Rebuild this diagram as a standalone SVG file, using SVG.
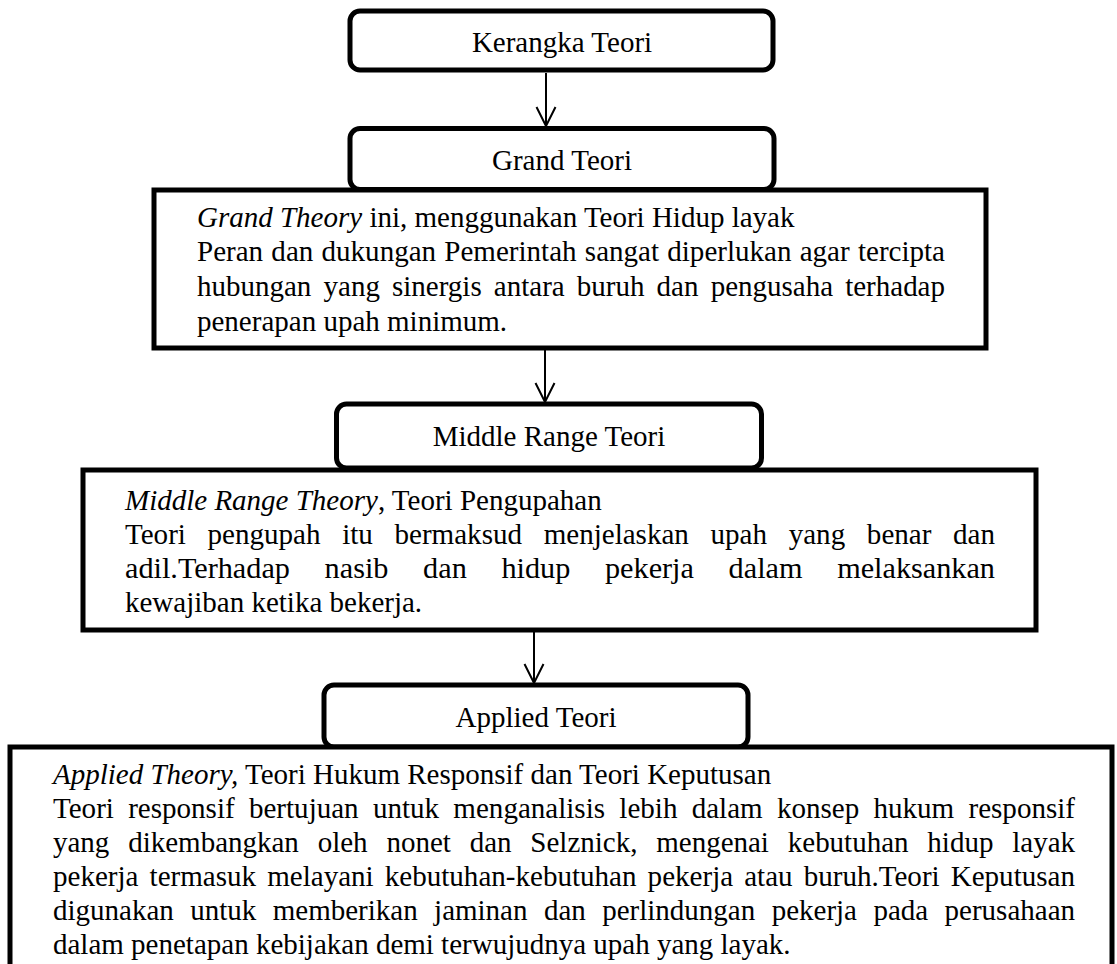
<svg xmlns="http://www.w3.org/2000/svg" width="1117" height="964" viewBox="0 0 1117 964">
<style>
  .box { fill: #fff; stroke: #000; stroke-width: 5; }
  .t { font-family: "Liberation Serif", "Times New Roman", serif; font-size: 29px; fill: #000; }
  .title { font-family: "Liberation Serif", "Times New Roman", serif; font-size: 29px; fill: #000; text-anchor: middle; }
  .i { font-style: italic; }
  .conn { stroke: #000; stroke-width: 2; fill: none; }
</style>
<defs>
  <marker id="arr" viewBox="-22 -12 24 24" refX="0" refY="0" markerWidth="24" markerHeight="24" markerUnits="userSpaceOnUse" orient="auto">
    <path d="M-19,-9.5 L0,0 L-19,9.5" fill="none" stroke="#000" stroke-width="2"/>
  </marker>
</defs>
<rect width="1117" height="964" fill="#fff"/>

<g id="connectors">
  <line class="conn" x1="546" y1="73" x2="546" y2="126" marker-end="url(#arr)"/>
  <line class="conn" x1="545" y1="350" x2="545" y2="402" marker-end="url(#arr)"/>
  <line class="conn" x1="534" y1="632" x2="534" y2="683" marker-end="url(#arr)"/>
</g>

<g id="kerangka">
  <rect class="box" x="350" y="11" width="423" height="59" rx="10"/>
  <text class="title" x="562" y="52">Kerangka Teori</text>
</g>

<g id="grand-title">
  <rect class="box" x="350" y="128.5" width="424" height="61" rx="10"/>
  <text class="title" x="562" y="170">Grand Teori</text>
</g>

<g id="grand-body">
  <rect class="box" x="154" y="190" width="832" height="158"/>
  <text class="t" x="197" y="227"><tspan class="i">Grand Theory</tspan> ini, menggunakan Teori Hidup layak</text>
  <text class="t" x="197" y="261" textLength="748" lengthAdjust="spacingAndGlyphs" word-spacing="1">Peran dan dukungan Pemerintah sangat diperlukan agar tercipta</text>
  <text class="t" x="197" y="296" textLength="748" lengthAdjust="spacingAndGlyphs" word-spacing="4.9">hubungan yang sinergis antara buruh dan pengusaha terhadap</text>
  <text class="t" x="197" y="331">penerapan upah minimum.</text>
</g>

<g id="middle-title">
  <rect class="box" x="336.5" y="404" width="425" height="64" rx="10"/>
  <text class="title" x="549" y="446">Middle Range Teori</text>
</g>

<g id="middle-body">
  <rect class="box" x="83" y="470" width="953" height="160"/>
  <text class="t" x="125" y="510"><tspan class="i">Middle Range Theory</tspan>, Teori Pengupahan</text>
  <text class="t" x="125" y="544" textLength="870" lengthAdjust="spacingAndGlyphs" word-spacing="14.4">Teori pengupah itu bermaksud menjelaskan upah yang benar dan</text>
  <text class="t" x="125" y="578" textLength="870" lengthAdjust="spacingAndGlyphs" word-spacing="26">adil.Terhadap nasib dan hidup pekerja dalam melaksankan</text>
  <text class="t" x="125" y="612">kewajiban ketika bekerja.</text>
</g>

<g id="applied-title">
  <rect class="box" x="324" y="685" width="424" height="62" rx="10"/>
  <text class="title" x="536" y="727">Applied Teori</text>
</g>

<g id="applied-body">
  <rect class="box" x="10" y="747" width="1102" height="240"/>
  <text class="t" x="53" y="784"><tspan class="i">Applied Theory,</tspan> Teori Hukum Responsif dan Teori Keputusan</text>
  <text class="t" x="53" y="818" textLength="1022" lengthAdjust="spacingAndGlyphs" word-spacing="7">Teori responsif bertujuan untuk menganalisis lebih dalam konsep hukum responsif</text>
  <text class="t" x="53" y="852" textLength="1022" lengthAdjust="spacingAndGlyphs" word-spacing="11.6">yang dikembangkan oleh nonet dan Selznick, mengenai kebutuhan hidup layak</text>
  <text class="t" x="53" y="886" textLength="1022" lengthAdjust="spacingAndGlyphs" word-spacing="3.8">pekerja termasuk melayani kebutuhan-kebutuhan pekerja atau buruh.Teori Keputusan</text>
  <text class="t" x="53" y="920" textLength="1022" lengthAdjust="spacingAndGlyphs" word-spacing="9.2">digunakan untuk memberikan jaminan dan perlindungan pekerja pada perusahaan</text>
  <text class="t" x="53" y="954">dalam penetapan kebijakan demi terwujudnya upah yang layak.</text>
</g>
</svg>
